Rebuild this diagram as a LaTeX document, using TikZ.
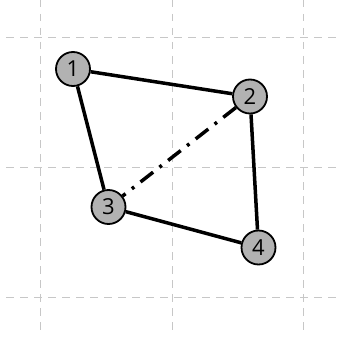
\documentclass[tikz,border=0pt]{standalone}
\usepackage{fontspec}
\setmainfont{Open Sans}
\begin{document}
\begin{tikzpicture}[x=1pt,y=-1pt,
  gridline/.style={draw=black!22,line width=1.1pt,dash pattern=on 7.5pt off 6.5pt},
  vtx/.style={circle,draw=black,line width=1.8pt,fill=black!30,minimum size=34pt,inner sep=0pt,font=\fontsize{22}{22}\selectfont},
  edge/.style={line width=3.5pt},
  dashdot/.style={line width=3.5pt,dash pattern=on 16pt off 8pt on 3pt off 8pt}]
\useasboundingbox (0,0) rectangle (340,345);
% grid
\foreach \gx in {40.7,172.3,303.3} \draw[gridline] (\gx,0) -- (\gx,334);
\foreach \gy in {37.3,167.3,297.7} \draw[gridline] (6,\gy) -- (340,\gy);
% nodes
\node[vtx] (n1) at (73,69) {1};
\node[vtx] (n2) at (250,96.5) {2};
\node[vtx] (n3) at (108.5,207) {3};
\node[vtx] (n4) at (258.5,247.5) {4};
% edges
\draw[edge] (n1) -- (n2);
\draw[edge] (n1) -- (n3);
\draw[edge] (n2) -- (n4);
\draw[edge] (n3) -- (n4);
\draw[dashdot] (n2) -- (n3);
\end{tikzpicture}
\end{document}
